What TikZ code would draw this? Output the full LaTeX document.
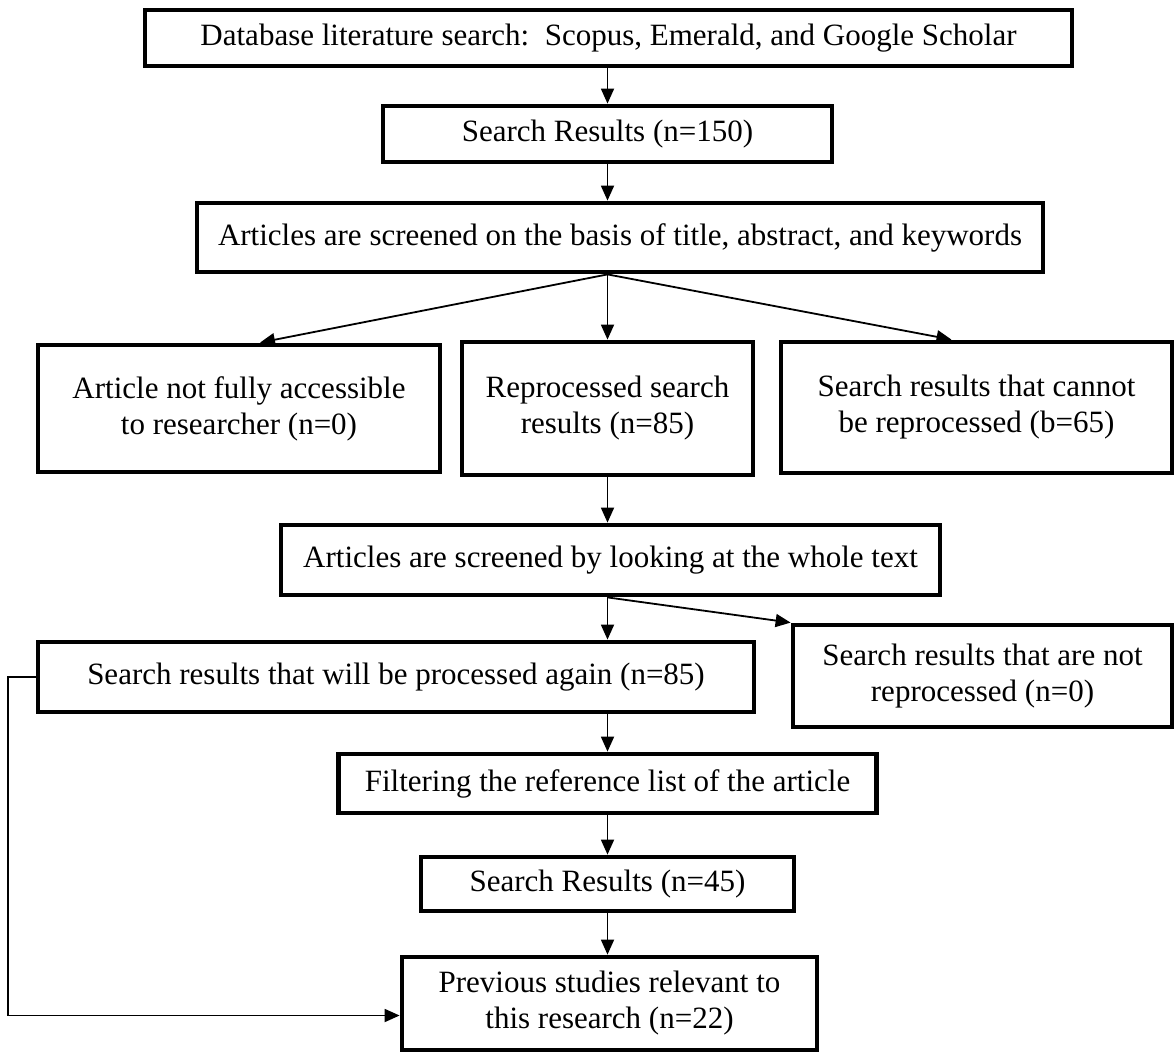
\documentclass[tikz,border=0pt]{standalone}
\usepackage{fontspec}
\setmainfont{Liberation Serif}
\usetikzlibrary{arrows.meta,calc}
\begin{document}
\begin{tikzpicture}[x=1pt,y=-1pt,
  box/.style={draw, line width=4.8pt, inner sep=2pt, align=center, font=\fontsize{31}{36}\selectfont},
  arr/.style={line width=1.8pt, -{Triangle[length=15pt,width=13pt]}},
  conn/.style={line width=1.8pt}]
\useasboundingbox (0,0) rectangle (1174,1052);

\node[box, minimum width=927pt, minimum height=56pt] (b1) at (608.5,38) {Database literature search:\ \ Scopus, Emerald, and Google Scholar};
\node[box, minimum width=449pt, minimum height=56pt] (b2) at (607.5,134) {Search Results (n=150)};
\node[box, minimum width=846pt, minimum height=69pt] (b3) at (620,237.5) {Articles are screened on the basis of title, abstract, and keywords};
\node[box, minimum width=402pt, minimum height=127pt] (b4) at (239,408.5) {Article not fully accessible\\to researcher (n=0)};
\node[box, minimum width=291pt, minimum height=133pt] (b5) at (607.5,408.5) {Reprocessed search\\results (n=85)};
\node[box, minimum width=391pt, minimum height=131pt] (b6) at (976.5,407.5) {Search results that cannot\\be reprocessed (b=65)};
\node[box, minimum width=659pt, minimum height=70pt] (b7) at (610.5,560) {Articles are screened by looking at the whole text};
\node[box, minimum width=716pt, minimum height=70pt] (b8) at (396,677) {Search results that will be processed again (n=85)};
\node[box, minimum width=379pt, minimum height=102pt] (b9) at (982.5,676) {Search results that are not\\reprocessed (n=0)};
\node[box, minimum width=538pt, minimum height=59pt] (b10) at (607.5,783.5) {Filtering the reference list of the article};
\node[box, minimum width=373pt, minimum height=54pt] (b11) at (607.5,884) {Search Results (n=45)};
\node[box, minimum width=415pt, minimum height=93pt] (b12) at (609.5,1003.5) {Previous studies relevant to\\this research (n=22)};

\coordinate (lx) at (8,0);

\draw[arr] (b1.south -| b2.north) -- (b2.north);
\draw[arr] (b2.south) -- (b2.south |- b3.north);
\draw[arr] (b3.south -| b5.north) -- ([xshift=21pt]b4.north);
\draw[arr] (b3.south -| b5.north) -- (b5.north);
\draw[arr] (b3.south -| b5.north) -- ([xshift=-25pt]b6.north);
\draw[arr] (b5.south) -- (b5.south |- b7.north);
\draw[arr] (b7.south -| b5.north) -- (b5.north |- b8.north);
\draw[arr] (b7.south -| b5.north) -- (b9.north west);
\draw[arr] (b5.north |- b8.south) -- (b10.north);
\draw[arr] (b10.south) -- (b11.north);
\draw[arr] (b11.south) -- (b11.south |- b12.north);
\draw[arr] (b8.west) -- (b8.west -| lx) |- ([yshift=-12pt]b12.west);
\end{tikzpicture}
\end{document}
